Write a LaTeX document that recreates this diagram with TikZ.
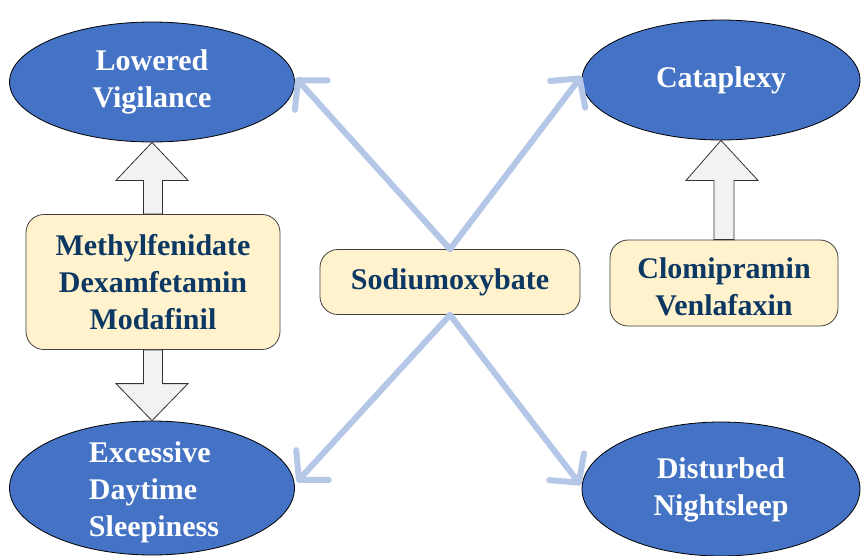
\documentclass[tikz,border=0pt]{standalone}
\usepackage{fontspec}
\setmainfont{Liberation Serif}
\usepackage{tikz}
\usetikzlibrary{shapes, arrows.meta, calc}

\definecolor{ellblue}{RGB}{68,114,196}
\definecolor{boxfill}{RGB}{255,242,204}
\definecolor{txtblue}{RGB}{12,56,99}
\definecolor{linkblue}{RGB}{180,199,231}
\definecolor{blockgray}{RGB}{242,242,242}

\tikzset{
	bigtext/.style={font=\fontsize{30}{37}\selectfont\bfseries},
	ell/.style={ellipse, draw=black, line width=0.8pt, fill=ellblue, inner sep=0pt},
	elltext/.style={bigtext, text=white, align=center},
	drugbox/.style={draw=black!75, line width=0.8pt, rounded corners=18pt, fill=boxfill,
		bigtext, text=txtblue, align=center},
	drugtext/.style={bigtext, text=txtblue, align=center},
	blockarr/.style={draw=black!80, line width=0.8pt, fill=blockgray},
	link/.style={linkblue, line width=6pt, line cap=round,
		-{Straight Barb[length=20pt, width=44pt, round]}}
}

\begin{document}
\begin{tikzpicture}[x=1pt, y=-1pt]
		\useasboundingbox (0,0) rectangle (861,555);
		
		% symptoms
		\node[ell, minimum width=285pt, minimum height=120pt,
			label={[elltext]center:Lowered\\Vigilance}] (lv) at (152,82) {};
		\node[ell, minimum width=278pt, minimum height=120pt,
			label={[elltext]center:Cataplexy}] (cat) at (721,80) {};
		\node[ell, minimum width=285pt, minimum height=134pt,
			label={[elltext, align=left, xshift=2pt, yshift=-4pt]center:Excessive\\Daytime\\Sleepiness}] (eds) at (152,488) {};
		\node[ell, minimum width=278pt, minimum height=134pt,
			label={[elltext, yshift=-1pt]center:Disturbed\\Nightsleep}] (dn) at (721,489) {};
		
		% drugs
		\node[drugbox, minimum width=254pt, minimum height=135pt] (meth) at (153,282)
			{Methylfenidate\\Dexamfetamin\\Modafinil};
		\node[drugbox, minimum width=260pt, minimum height=65pt] (sod) at (450,282) {Sodiumoxybate};
		\node[drugbox, minimum width=228pt, minimum height=86pt,
			label={[drugtext, yshift=-4pt]center:Clomipramin\\Venlafaxin}] (clo) at (724,283) {};
		
		% block arrows
		\draw[blockarr] ($(meth.north)+(-9.5,0)$) |- ($(lv.south)+(-36,38)$) -- (lv.south)
			-- ($(lv.south)+(36,38)$) -| ($(meth.north)+(9.5,0)$) -- cycle;
		\draw[blockarr] ($(meth.south)+(-9.5,0)$) |- ($(eds.north)+(-36,-37)$) -- (eds.north)
			-- ($(eds.north)+(36,-37)$) -| ($(meth.south)+(9.5,0)$) -- cycle;
		\draw[blockarr] ($(clo.north)+(-10,0)$) |- ($(cat.south)+(-35,40)$) -- (cat.south)
			-- ($(cat.south)+(37,40)$) -| ($(clo.north)+(10,0)$) -- cycle;
		
		% sodiumoxybate links
		\draw[link] (sod.north) -- ($(lv.east)+(1,-4)$);
		\draw[link] (sod.north) -- ($(cat.west)+(0,-4)$);
		\draw[link] (sod.south) -- ($(eds.east)+(2,-6)$);
		\draw[link] (sod.south) -- ($(dn.west)+(-1,-4)$);
	\end{tikzpicture}
\end{document}
